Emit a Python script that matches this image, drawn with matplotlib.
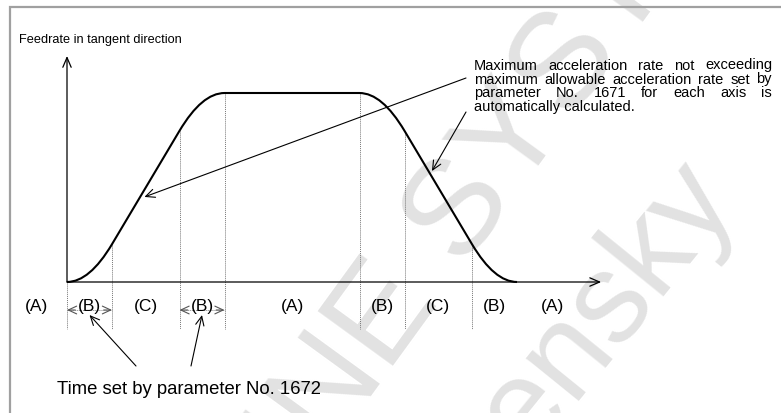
import numpy as np
import matplotlib.pyplot as plt
from matplotlib.path import Path
from matplotlib.patches import PathPatch, Rectangle

plt.rcParams['font.family'] = ['Liberation Sans', 'DejaVu Sans']

# phases of the tangent feedrate profile (time in units of the B time, feedrate normalised)
phase_names = ['(B)', '(C)', '(B)', '(A)', '(B)', '(C)', '(B)']
phase_times = [1.0, 1.5, 1.0, 3.0, 1.0, 1.5, 1.0]
feed_at_bounds = [0.0, 0.2, 0.8, 1.0, 1.0, 0.8, 0.2, 0.0]
idle_names = ['(A)', '(A)']
idle_pos = [-0.67, 10.8]

ylabel_txt = 'Feedrate in tangent direction'
note_lines = ['Maximum acceleration rate not exceeding',
              'maximum allowable acceleration rate set by',
              'parameter No. 1671 for each axis is',
              'automatically calculated.']
time_note = 'Time set by parameter No. 1672'
watermarks = ['INE SYSTEMS', 'ensky']

W, H = 781, 414
fig = plt.figure(figsize=(W / 100, H / 100), dpi=100)
ax = fig.add_axes([0, 0, 1, 1])
# 45 px per time unit, 189 px for the full feedrate, origin at pixel (67, 283)
x0, y0, sx, sy = 67, 283, 45, 189
ax.set_xlim(-x0 / sx, (W - x0) / sx)
ax.set_ylim(-(H - y0) / sy, y0 / sy)
ax.axis('off')

t = np.concatenate([[0.0], np.cumsum(phase_times)])
f = np.array(feed_at_bounds)
fmax = f.max()

# watermark, behind everything
ax.text(307 / W, 1 - 484 / H, watermarks[0], fontsize=98, color='#e2e2e2', transform=fig.transFigure,
        rotation=54, rotation_mode='anchor', ha='left', va='baseline', zorder=0)
ax.text(528 / W, 1 - 458 / H, watermarks[1], fontsize=92, color='#e2e2e2', transform=fig.transFigure,
        rotation=51, rotation_mode='anchor', ha='left', va='baseline', zorder=0)

# frame
fig.patches.append(Rectangle((10 / W, -0.1), 1.2, 1 - 8 / H + 0.1, transform=fig.transFigure,
                             fill=False, ec='#a0a0a0', lw=1.6))

# feedrate curve: B phases are parabolas (control point where the tangents meet)
verts = [(t[0], f[0])]
codes = [Path.MOVETO]
for i, name in enumerate(phase_names):
    if name == '(B)':
        flat = f[i] if f[i] in (0.0, fmax) else f[i + 1]
        verts += [((t[i] + t[i + 1]) / 2, flat), (t[i + 1], f[i + 1])]
        codes += [Path.CURVE3, Path.CURVE3]
    else:
        verts.append((t[i + 1], f[i + 1]))
        codes.append(Path.LINETO)
ax.add_patch(PathPatch(Path(verts, codes), fill=False, lw=1.5, ec='black', zorder=3))

# axes with open arrow heads
axis_arrow = dict(arrowstyle='->,head_length=0.7,head_width=0.3', lw=0.9, color='black',
                  shrinkA=0, shrinkB=0)
ax.annotate('', xy=(0, 1.196), xytext=(0, 0), arrowprops=axis_arrow, zorder=3)
ax.annotate('', xy=(11.87, 0), xytext=(0, 0), arrowprops=axis_arrow, zorder=3)

# phase boundaries
y_low = -(330 - y0) / sy
for i in range(len(t) - 1):
    ax.plot([t[i], t[i]], [f[i], y_low], ls=(0, (1, 1)), lw=0.7, color='#777777', zorder=2)

# phase labels
y_lab = -(306 - y0) / sy
mids = (t[:-1] + t[1:]) / 2
for m, name in zip(mids, phase_names):
    ax.text(m, y_lab, name, ha='center', va='center', fontsize=12.5, zorder=4)
for p, name in zip(idle_pos, idle_names):
    ax.text(p, y_lab, name, ha='center', va='center', fontsize=12.5, zorder=4)

# double arrows marking the time of the first two B phases
y_arr = -(311 - y0) / sy
head = dict(arrowstyle='->,head_length=0.6,head_width=0.28', lw=0.8, color='#555555',
            shrinkA=0, shrinkB=0)
for i in [0, 2]:
    ax.plot([t[i], t[i + 1]], [y_arr, y_arr], ls=(0, (1, 1)), lw=0.7, color='#888888', zorder=2)
    ax.annotate('', xy=(t[i], y_arr), xytext=(6, 0), textcoords='offset points', arrowprops=head)
    ax.annotate('', xy=(t[i + 1], y_arr), xytext=(-6, 0), textcoords='offset points', arrowprops=head)

# texts
fig.text(19 / W, 1 - 42.5 / H, ylabel_txt, fontsize=9.2, va='baseline')
fig.text(57 / W, 1 - 394 / H, time_note, fontsize=13.3, va='baseline')

# justified note, top right
left, right = 474, 772
bases = [69.5, 83.5, 97.5, 111.5]
fs_note = 10.5
rend = fig.canvas.get_renderer()
for k, (line, yb) in enumerate(zip(note_lines, bases)):
    if k == len(note_lines) - 1:
        fig.text(left / W, 1 - yb / H, line, fontsize=fs_note, va='baseline')
        continue
    words = line.split()
    objs = [fig.text(0, 1 - yb / H, w, fontsize=fs_note, va='baseline') for w in words]
    widths = [o.get_window_extent(rend).width for o in objs]
    gap = (right - left - sum(widths)) / (len(words) - 1)
    x = left
    for o, w in zip(objs, widths):
        o.set_x(x / W)
        x += w + gap

# pointer arrows
pointer = dict(arrowstyle='->,head_length=0.65,head_width=0.3', lw=0.8, color='black',
               shrinkA=0, shrinkB=0)
ax.annotate('', xy=(1.72, 0.45), xytext=(466, H - 79), textcoords='figure pixels', arrowprops=pointer)
ax.annotate('', xy=(8.11, 0.587), xytext=(466, H - 113), textcoords='figure pixels', arrowprops=pointer)
y_tip = -(316 - y0) / sy
ax.annotate('', xy=(mids[0], y_tip), xytext=(136, H - 367), textcoords='figure pixels', arrowprops=pointer)
ax.annotate('', xy=(mids[2], y_tip), xytext=(191, H - 367), textcoords='figure pixels', arrowprops=pointer)

fig.savefig('out.png', dpi=100)
